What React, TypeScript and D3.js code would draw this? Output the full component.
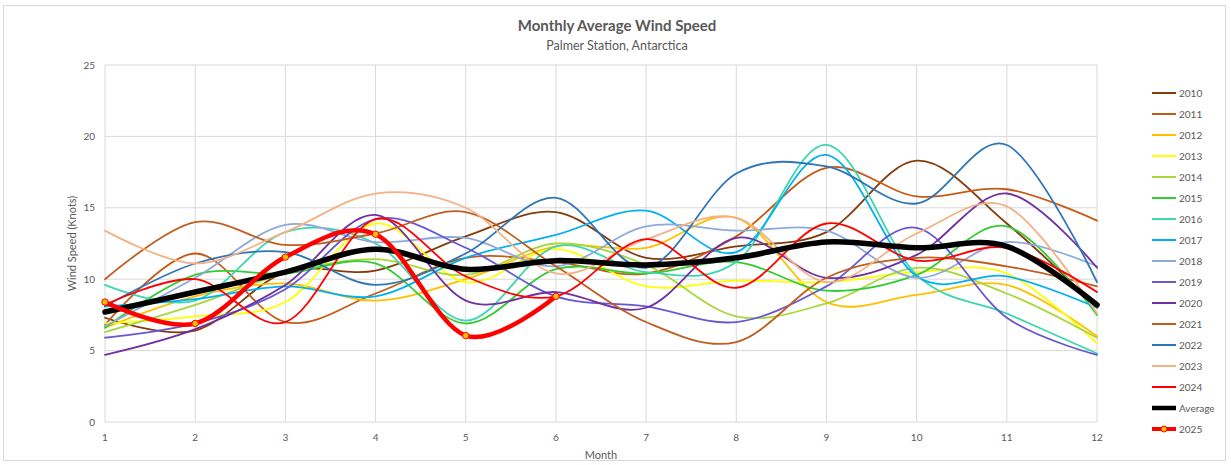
import React from "react";
import * as d3 from "d3";

// month numbers on the x axis
const months = [1, 2, 3, 4, 5, 6, 7, 8, 9, 10, 11, 12];
const yTicks = [0, 5, 10, 15, 20, 25];

// monthly averages (knots)
const y2010 = [7.3, 6.4, 10.5, 10.6, 13.0, 14.7, 11.5, 12.3, 13.3, 18.3, 13.9, 8.0];
const y2011 = [6.8, 11.8, 7.0, 9.0, 11.5, 11.2, 10.4, 13.0, 17.8, 15.8, 16.3, 14.1];
const y2012 = [6.6, 8.8, 9.7, 8.5, 10.0, 12.3, 12.2, 14.3, 8.4, 8.9, 9.6, 6.0];
const y2013 = [6.9, 7.4, 8.4, 13.9, 9.8, 12.1, 9.5, 9.9, 9.8, 10.5, 10.4, 5.5];
const y2014 = [6.3, 8.2, 10.4, 11.4, 10.3, 12.5, 11.0, 7.4, 8.3, 10.8, 9.0, 5.9];
const y2015 = [6.6, 10.3, 10.4, 11.1, 6.9, 10.7, 10.4, 11.2, 9.2, 10.3, 13.7, 7.5];
const y2016 = [9.6, 8.5, 13.3, 12.5, 7.1, 12.3, 10.5, 11.2, 19.4, 10.3, 7.6, 4.8];
const y2017 = [8.1, 8.6, 9.5, 8.8, 11.5, 13.1, 14.8, 11.9, 18.7, 10.2, 10.2, 8.0];
const y2018 = [6.7, 10.1, 13.8, 12.6, 12.9, 10.9, 13.7, 13.4, 13.4, 10.1, 12.6, 10.9];
const y2019 = [5.9, 6.9, 9.3, 14.2, 12.2, 8.8, 8.1, 7.0, 9.5, 13.6, 7.3, 4.7];
const y2020 = [4.7, 6.5, 9.6, 14.5, 8.5, 9.1, 8.0, 12.9, 10.1, 11.7, 16.0, 10.8];
const y2021 = [10.0, 14.0, 12.4, 13.2, 14.7, 10.9, 7.0, 5.6, 10.1, 11.5, 10.9, 9.5];
const y2022 = [8.1, 11.1, 11.9, 9.6, 11.8, 15.7, 10.8, 17.4, 17.9, 15.3, 19.4, 9.8];
const y2023 = [13.4, 11.1, 13.3, 16.0, 15.0, 10.4, 12.8, 14.3, 9.8, 13.2, 15.1, 7.6];
const y2024 = [8.2, 10.0, 7.0, 14.2, 10.2, 8.8, 12.8, 9.4, 13.9, 11.3, 12.2, 9.1];
const average = [7.7, 9.1, 10.5, 12.1, 10.7, 11.3, 11.0, 11.5, 12.6, 12.2, 12.3, 8.2];
const y2025 = [8.4, 6.9, 11.55, 13.15, 6.05, 8.8];

const series = [
  { name: "2010", values: y2010, color: "#843C0C", width: 1.8 },
  { name: "2011", values: y2011, color: "#C65B17", width: 1.8 },
  { name: "2012", values: y2012, color: "#FFC000", width: 1.8 },
  { name: "2013", values: y2013, color: "#FFFF00", width: 1.8 },
  { name: "2014", values: y2014, color: "#A9D63A", width: 1.8 },
  { name: "2015", values: y2015, color: "#33CC33", width: 1.8 },
  { name: "2016", values: y2016, color: "#3DD6B0", width: 1.8 },
  { name: "2017", values: y2017, color: "#00B0F0", width: 1.8 },
  { name: "2018", values: y2018, color: "#8EA9DB", width: 1.8 },
  { name: "2019", values: y2019, color: "#6658D0", width: 1.8 },
  { name: "2020", values: y2020, color: "#7030A0", width: 1.8 },
  { name: "2021", values: y2021, color: "#BF5E1F", width: 1.8 },
  { name: "2022", values: y2022, color: "#2E75B6", width: 1.8 },
  { name: "2023", values: y2023, color: "#F4B183", width: 1.8 },
  { name: "2024", values: y2024, color: "#FF0000", width: 1.8 },
  { name: "Average", values: average, color: "#000000", width: 5.5 },
  { name: "2025", values: y2025, color: "#FF0000", width: 4.5, markers: true },
];

const W = 1231;
const H = 465;
const font = "Lato, 'Open Sans', sans-serif";
const textColor = "#595959";

export default function App() {
  const x = d3.scaleLinear().domain([1, 12]).range([105, 1097]);
  const y = d3.scaleLinear().domain([0, 25]).range([422, 65]);

  const line = d3
    .line<number>()
    .x((d, i) => x(months[i]))
    .y((d) => y(d))
    .curve(d3.curveCatmullRom.alpha(0));

  return (
    <svg
      width={W}
      height={H}
      style={{ position: "absolute", left: 0, top: 0, background: "#fff" }}
      fontFamily={font}
    >
      <rect x={3.5} y={5.5} width={1222} height={455} fill="#fff" stroke="#d9d9d9" />

      {/* titles */}
      <text x={617} y={31} textAnchor="middle" fontSize={15} fontWeight="bold" fill={textColor}>
        Monthly Average Wind Speed
      </text>
      <text x={617} y={50} textAnchor="middle" fontSize={12.5} fill={textColor}>
        Palmer Station, Antarctica
      </text>

      {/* grid */}
      {yTicks.map((t) => (
        <line key={"h" + t} x1={x(1)} x2={x(12)} y1={y(t)} y2={y(t)} stroke="#d9d9d9" strokeWidth={1} />
      ))}
      {months.map((m) => (
        <line key={"v" + m} x1={x(m)} x2={x(m)} y1={y(0)} y2={y(25)} stroke="#d9d9d9" strokeWidth={1} />
      ))}

      {/* tick labels */}
      {yTicks.map((t) => (
        <text key={"yt" + t} x={x(1) - 10} y={y(t) + 3.5} textAnchor="end" fontSize={10} fill={textColor}>
          {t}
        </text>
      ))}
      {months.map((m) => (
        <text key={"xt" + m} x={x(m)} y={441} textAnchor="middle" fontSize={10} fill={textColor}>
          {m}
        </text>
      ))}

      <text x={601} y={459} textAnchor="middle" fontSize={11} fill={textColor}>
        Month
      </text>
      <text
        transform={`translate(76, ${y(12.5)}) rotate(-90)`}
        textAnchor="middle"
        fontSize={11}
        fill={textColor}
      >
        Wind Speed (Knots)
      </text>

      {/* series */}
      {series.map((s) => (
        <g key={s.name}>
          <path d={line(s.values) || ""} fill="none" stroke={s.color} strokeWidth={s.width} strokeLinejoin="round" strokeLinecap="round" />
          {s.markers &&
            s.values.map((v, i) => (
              <circle key={i} cx={x(months[i])} cy={y(v)} r={3.2} fill="#FFC000" stroke="#FF0000" strokeWidth={1} />
            ))}
        </g>
      ))}

      {/* legend */}
      {series.map((s, i) => {
        const ly = 93 + i * 21;
        return (
          <g key={"lg" + s.name}>
            <line x1={1152} x2={1176} y1={ly} y2={ly} stroke={s.color} strokeWidth={s.name === "Average" ? 4.5 : s.markers ? 4 : 2} />
            {s.markers && <circle cx={1164} cy={ly} r={3} fill="#FFC000" stroke="#FF0000" strokeWidth={1} />}
            <text x={1179} y={ly + 3.5} fontSize={10} fill={textColor}>
              {s.name}
            </text>
          </g>
        );
      })}
    </svg>
  );
}
